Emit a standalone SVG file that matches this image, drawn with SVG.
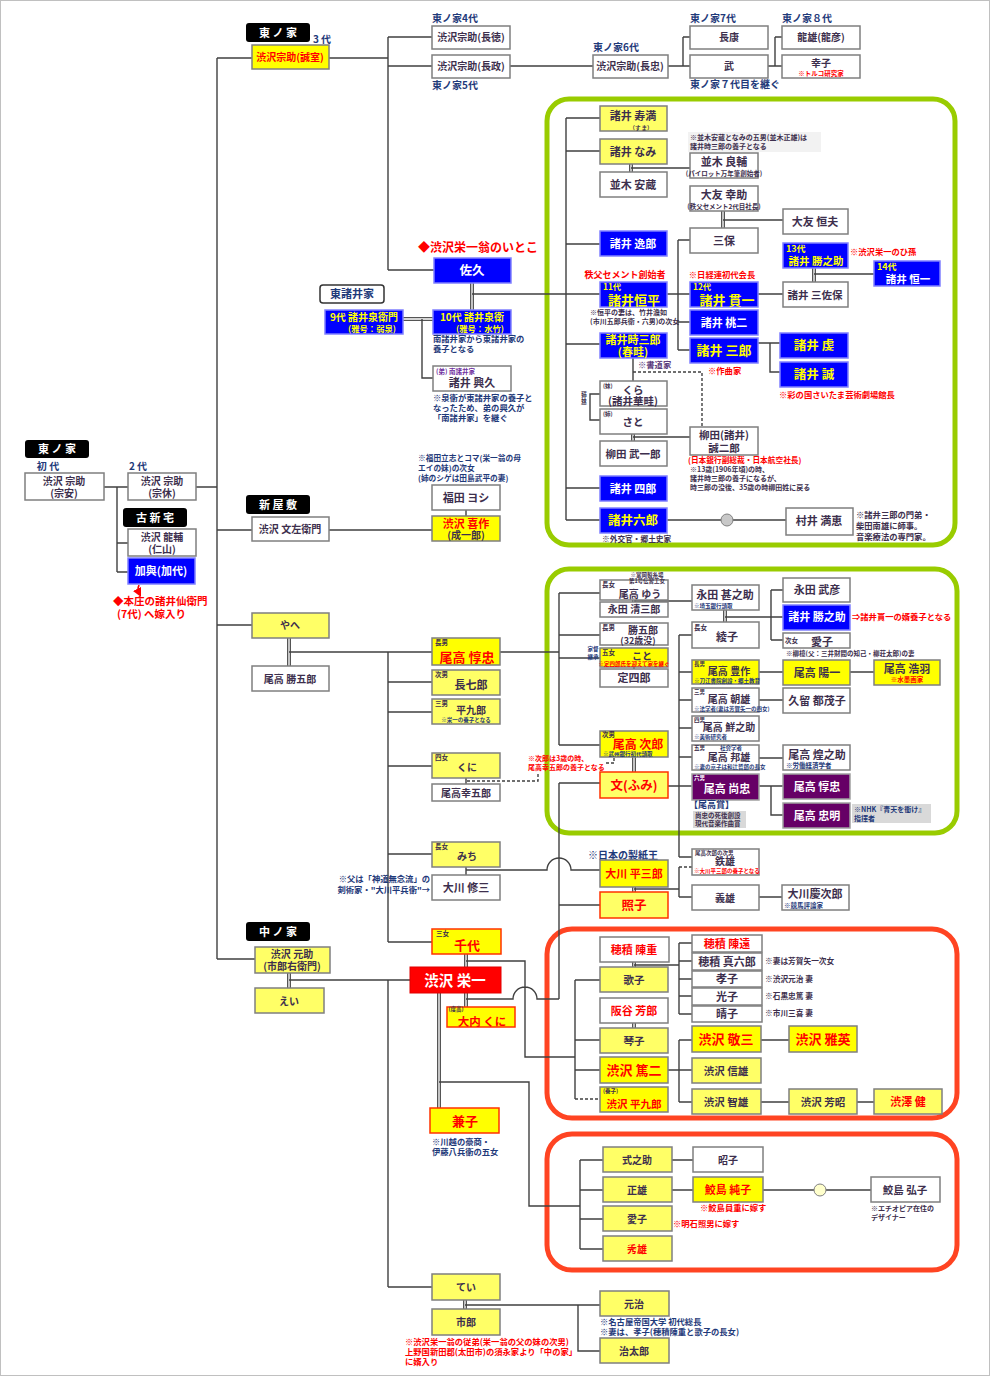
<svg xmlns="http://www.w3.org/2000/svg" xmlns:xlink="http://www.w3.org/1999/xlink" width="990" height="1376" viewBox="0 0 990 1376">
<style>
text{font-family:"Noto Sans CJK JP","Noto Sans CJK SC",sans-serif;font-weight:700;fill:#3d2f4d;text-anchor:middle;font-size:11px}
.s{text-anchor:start}.e{text-anchor:end}
.r{fill:#FF0000}.w{fill:#fff}.yt{fill:#FFFF00}.n{fill:#1F3A7A}.pt{fill:#7030A0}.pp{fill:#5b3b7b}
.f5{font-size:5.5px}.f6{font-size:6.5px}.f7{font-size:7px}.f75{font-size:7.7px}.f8{font-size:8.3px}.f9{font-size:9px}.f10{font-size:10px}.f12{font-size:12.5px}.f13{font-size:13px}.f14{font-size:14.5px}
.b{fill:#fff;stroke:#7f7f7f;stroke-width:1.5}
.y{fill:#FFFF66;stroke:#7f7f7f;stroke-width:1.5}
.Y{fill:#FFFF00;stroke:#7f7f7f;stroke-width:1.5}
.bl{fill:#0000FF;stroke:#8080ff;stroke-width:1.5}
.pu{fill:#660066;stroke:#a0a0a0;stroke-width:1.5}
.rb{stroke:#FF3300}
.lab{fill:#000}
.ln{fill:none;stroke:#404040;stroke-width:1.4}
.da{stroke-dasharray:3 2}
.dbl{fill:none;stroke:#555;stroke-width:4}
.dbli{fill:none;stroke:#fff;stroke-width:1.3}
.grn{fill:none;stroke:#99CC00;stroke-width:5}
.red{fill:none;stroke:#FF4422;stroke-width:5}
</style>
<defs>
<marker id="ar" markerWidth="6" markerHeight="6" refX="3" refY="3" orient="auto"><path d="M0,0L6,3L0,6z" fill="#FF0000"/></marker>
<path id="dbls" d="M472,283V310 M403,319H433 M631,164V172 M723,211V228 M814,268V282 M633,434V441 M289,638V666 M634,599V603 M725,610V622 M634,757V772 M634,887V892 M289,973V988 M466,954V967 M466,993V1007 M439,993V1108 M634,962V967 M634,1023V1028 M465,1300V1309"/>
</defs>
<rect x="0.5" y="0.5" width="989" height="1375" fill="#fff" stroke="#C0C0C0"/>

<g id="frames">
<rect class="grn" x="547" y="99" width="408" height="446" rx="22"/>
<rect class="grn" x="547" y="569" width="410" height="264" rx="22"/>
<rect class="red" x="547" y="929" width="410" height="189" rx="25"/>
<rect class="red" x="547" y="1134" width="410" height="136" rx="25"/>
</g>

<g id="connectors">
<use xlink:href="#dbls" class="dbl"/>
<use xlink:href="#dbls" class="dbli"/>
<path class="ln" d="M217,58V959 M217,58H252 M196,487H217 M217,530H252 M217,625H252 M217,959H255"/>
<path class="ln" d="M104,487H128 M117,487V572 M117,543H128 M117,572H128"/>
<path fill="none" stroke="#FF0000" stroke-width="1.5" d="M139,585q-2,4,0,8" marker-end="url(#ar)"/>
<path class="ln" d="M329,58H388 M388,37V270 M388,37H432 M388,66H432 M388,270H434 M510,66H593 M668,66H690 M683,37V66 M683,37H690 M768,66H782 M775,37V66 M775,37H782"/>
<path class="ln" d="M472,294H600 M422,319V378H433"/>
<path class="ln" d="M566,118V520 M566,118H600 M566,151H600 M566,244H600 M566,344H600 M566,488H600 M566,520H600"/>
<path class="ln" d="M631,168H690 M723,220H783 M667,294H690 M758,294H783 M678,240V350 M678,240H690 M678,322H690 M678,350H690 M814,274H874 M758,343H780 M770,343V372H780"/>
<path class="ln" d="M633,358V381 M600,394H590V420H600 M633,437H690"/>
<path class="ln da" d="M633,372H702V427"/>
<path class="ln" d="M667,520H786"/>
<circle cx="727" cy="520" r="6" fill="#C8C8C8" stroke="#808080"/>
<path class="ln" d="M329,530H432 M466,510V516"/>
<path class="ln" d="M289,652H432 M500,652H559 M388,652V942 M388,682H432 M388,712H432 M388,766H432 M388,854H432 M388,942H432"/>
<path class="ln" d="M466,778V784 M466,867V875 M466,870H547A12,12 0 0 1 571,870H600"/>
<path class="ln da" d="M467,781H538V772 M606,763H614V757"/>
<path class="ln" d="M559,593V745 M559,593H600 M559,635H600 M559,658H600 M559,745H600"/>
<path class="ln" d="M634,601H692 M725,617H783 M771,590V640 M771,590H783 M771,640H783"/>
<path class="ln" d="M634,667V669"/>
<path class="ln" d="M679,635V857 M679,635H692 M679,672H692 M679,700H692 M679,728H692 M679,757H692 M668,786H692 M679,857H692"/>
<path class="ln" d="M759,672H783 M850,672H874 M759,700H783 M759,758H783 M759,786H783 M771,786V815H783"/>
<path class="ln" d="M559,783H600 M559,783V999 M559,905H600"/>
<path class="ln" d="M634,889H679 M679,867V897 M679,897H692 M759,897H782"/>
<path class="ln da" d="M679,867H692"/>
<path class="ln" d="M289,980H410 M388,980V1287 M388,1287H432"/>
<path class="ln" d="M466,961H525V1057H575 M466,999H513A12,12 0 0 1 537,999H559 M439,1082H529V1206H580"/>
<path class="ln" d="M575,980V1099 M575,980H600 M575,1040H600 M575,1070H600"/>
<path class="ln da" d="M575,1099H600"/>
<path class="ln" d="M634,965H679 M679,943V1014 M679,943H692 M679,961H692 M679,979H692 M679,996H692 M679,1014H692"/>
<path class="ln" d="M668,1070H692 M679,1040V1102 M679,1040H692 M679,1102H692 M761,1040H789 M761,1102H789 M857,1102H874"/>
<path class="ln" d="M580,1160V1249 M580,1160H603 M580,1190H603 M580,1219H603 M580,1249H603 M672,1160H693 M672,1190H693 M763,1190H871"/>
<circle cx="820" cy="1190" r="6" fill="#FFFFCC" stroke="#808080"/>
<path class="ln" d="M465,1305H600 M578,1305V1351H600"/>
</g>

<g id="labels">
<rect class="lab" x="246" y="23" width="64" height="19" rx="3"/><text class="w" x="278" y="37">東 ノ 家</text>
<text class="n f10" x="322" y="43">3 代</text>
<rect class="lab" x="25" y="440" width="64" height="18" rx="3"/><text class="w" x="57" y="453">東 ノ 家</text>
<text class="n f10" x="48" y="470">初 代</text>
<text class="n f10" x="138" y="470">2 代</text>
<rect class="lab" x="123" y="508" width="64" height="19" rx="3"/><text class="w" x="155" y="522">古 新 宅</text>
<rect class="lab" x="246" y="495" width="64" height="19" rx="3"/><text class="w" x="278" y="509">新 屋 敷</text>
<rect class="lab" x="246" y="922" width="64" height="19" rx="3"/><text class="w" x="278" y="936">中 ノ 家</text>
<rect x="320" y="285" width="64" height="18" rx="3" fill="#fff" stroke="#333" stroke-width="1.5"/><text class="n" x="352" y="298">東諸井家</text>
</g>

<g id="n-top">
<text class="n f10 s" x="432" y="22">東ノ家4代</text>
<g id="n-chotoku"><rect class="b" x="432" y="26" width="78" height="23"/><text class="f10" x="471" y="41">渋沢宗助(長徳)</text></g>
<g id="n-chosei"><rect class="b" x="432" y="55" width="78" height="23"/><text class="f10" x="471" y="70">渋沢宗助(長政)</text></g>
<text class="n f10 s" x="432" y="89">東ノ家5代</text>
<text class="n f10 s" x="593" y="51">東ノ家6代</text>
<g id="n-chochu"><rect class="b" x="593" y="55" width="75" height="23"/><text class="f10" x="630" y="70">渋沢宗助(長忠)</text></g>
<text class="n f10 s" x="690" y="22">東ノ家7代</text>
<g id="n-choko"><rect class="b" x="690" y="26" width="78" height="23"/><text class="f10" x="729" y="41">長康</text></g>
<g id="n-take"><rect class="b" x="690" y="55" width="78" height="23"/><text class="f10" x="729" y="70">武</text></g>
<text class="n f10 s" x="690" y="88">東ノ家７代目を継ぐ</text>
<text class="n f10 s" x="782" y="22">東ノ家８代</text>
<g id="n-tatsuo"><rect class="b" x="782" y="26" width="78" height="23"/><text class="f10" x="821" y="41">龍雄(龍彦)</text></g>
<g id="n-sachiko"><rect class="b" x="782" y="55" width="78" height="23"/><text class="f10" x="821" y="67">幸子</text><text class="r f6" x="821" y="75.5">※トルコ研究家</text></g>
<g id="n-seishitsu"><rect class="Y" x="252" y="45" width="77" height="24"/><text class="r f10" x="290" y="61">渋沢宗助(誠室)</text></g>
</g>

<g id="n-left">
<g id="n-soan"><rect class="b" x="25" y="473" width="79" height="27"/><text class="f10" x="64" y="485">渋沢 宗助</text><text class="f10" x="64" y="497">(宗安)</text></g>
<g id="n-sokyu"><rect class="b" x="128" y="473" width="68" height="27"/><text class="f10" x="162" y="485">渋沢 宗助</text><text class="f10" x="162" y="497">(宗休)</text></g>
<g id="n-ryusuke"><rect class="b" x="128" y="529" width="68" height="27"/><text class="f10" x="162" y="541">渋沢 龍輔</text><text class="f10" x="162" y="553">(仁山)</text></g>
<g id="n-kayo"><rect class="bl" x="128" y="558" width="67" height="26"/><text class="w" x="161" y="575">加與(加代)</text></g>
<text class="r s" x="113" y="605" style="font-size:10.5px">◆本庄の諸井仙衛門</text>
<text class="r s" x="117" y="618" style="font-size:10.5px">(7代) へ嫁入り</text>
<g id="n-bunzaemon"><rect class="b" x="252" y="517" width="77" height="24"/><text class="f10" x="290" y="533">渋沢 文左衛門</text></g>
<text class="n f75 s" x="418" y="461">※福田立志とコマ(栄一翁の母</text>
<text class="n f75 s" x="418" y="471">エイの妹)の次女</text>
<text class="n f75 s" x="418" y="481">(姉のシゲは田島武平の妻)</text>
<g id="n-yoshi"><rect class="b" x="432" y="485" width="68" height="25"/><text x="466" y="502">福田 ヨシ</text></g>
<g id="n-kisaku"><rect class="Y" x="432" y="516" width="68" height="25"/><text class="r" x="466" y="528">渋沢 喜作</text><text class="f10" x="466" y="539">(成一郎)</text></g>
</g>

<g id="n-moroi">
<text class="r s" x="418" y="252" style="font-size:12px">◆渋沢栄一翁のいとこ</text>
<g id="n-saku"><rect class="bl" x="434" y="258" width="77" height="25"/><text class="w f12" x="472" y="275">佐久</text></g>
<g id="n-sen9"><rect class="bl" x="325" y="310" width="78" height="24"/><text class="yt f10" x="364" y="321">9代 諸井泉衛門</text><text class="yt f8" x="372" y="331.5">(雅号：弱泉)</text></g>
<g id="n-sen10"><rect class="bl" x="433" y="310" width="78" height="24"/><text class="yt f10" x="472" y="321">10代 諸井泉衛</text><text class="yt f8" x="480" y="331.5">(雅号：水竹)</text></g>
<text class="n f8 s" x="433" y="342">南諸井家から東諸井家の</text>
<text class="n f8 s" x="433" y="352">養子となる</text>
<g id="n-okihisa"><rect class="b" x="433" y="366" width="78" height="25"/><text class="pt f6 s" x="436" y="374">(弟) 南諸井家</text><text x="472" y="387">諸井 興久</text></g>
<text class="n f8 s" x="433" y="401">※泉衛が東諸井家の養子と</text>
<text class="n f8 s" x="433" y="411">なったため、弟の興久が</text>
<text class="n f8 s" x="433" y="421">「南諸井家」を継ぐ</text>
</g>

<g id="n-green1">
<g id="n-suma"><rect class="y" x="600" y="106" width="67" height="25"/><text x="633" y="120">諸井 寿満</text><text class="f5" x="641" y="129.5">（す ま）</text></g>
<g id="n-nami"><rect class="y" x="600" y="139" width="67" height="25"/><text x="633" y="156">諸井 なみ</text></g>
<g id="n-yasuzo"><rect class="b" x="600" y="172" width="67" height="25"/><text x="633" y="189">並木 安蔵</text></g>
<rect x="688" y="132" width="133" height="20" fill="#F2F2F2"/>
<text class="f7 s" x="690" y="140">※並木安蔵となみの五男(並木正雄)は</text>
<text class="f7 s" x="690" y="149">諸井時三郎の養子となる</text>
<g id="n-ryosuke"><rect class="b" x="690" y="153" width="68" height="25"/><text x="724" y="166">並木 良輔</text><text class="f6" x="724" y="176">(パイロット万年筆創始者)</text></g>
<g id="n-kosuke"><rect class="b" x="690" y="186" width="68" height="25"/><text x="724" y="199">大友 幸助</text><text class="f6" x="724" y="209">(秩父セメント2代目社長)</text></g>
<g id="n-tsuneo"><rect class="b" x="783" y="209" width="65" height="25"/><text x="815" y="226">大友 恒夫</text></g>
<g id="n-miho"><rect class="b" x="690" y="228" width="68" height="25"/><text x="724" y="245">三保</text></g>
<g id="n-itsuro"><rect class="bl" x="600" y="231" width="67" height="25"/><text class="w" x="633" y="248">諸井 逸郎</text></g>
<g id="n-katsu13"><rect class="bl" x="783" y="243" width="65" height="25"/><text class="yt f9 s" x="786" y="252">13代</text><text class="yt" x="816" y="265" style="font-size:10.5px">諸井 勝之助</text></g>
<text class="r f8 s" x="850" y="255">※渋沢栄一のひ孫</text>
<g id="n-koichi"><rect class="bl" x="874" y="261" width="66" height="25"/><text class="yt f9 s" x="877" y="270">14代</text><text class="w" x="908" y="283" style="font-size:10.5px">諸井 恒一</text></g>
<text class="r f9" x="625" y="278">秩父セメント創始者</text>
<g id="n-kohei"><rect class="bl" x="600" y="282" width="67" height="25"/><text class="yt f8 s" x="603" y="289.5">11代</text><text class="yt f13" x="634" y="305">諸井恒平</text></g>
<text class="r f8" x="722" y="278">※日経連初代会長</text>
<g id="n-kanichi"><rect class="bl" x="690" y="282" width="68" height="25"/><text class="yt f8 s" x="693" y="289.5">12代</text><text class="yt f13" x="727" y="305">諸井 貫一</text></g>
<g id="n-misaho"><rect class="b" x="783" y="282" width="65" height="25"/><text x="815" y="299" style="font-size:10.5px">諸井 三佐保</text></g>
<text class="f7 s" x="590" y="315">※恒平の妻は、竹井澹如</text>
<text class="f7 s" x="590" y="324">(市川五郎兵衛・六男)の次女</text>
<g id="n-momoji"><rect class="bl" x="690" y="310" width="68" height="25"/><text class="w" x="724" y="327">諸井 桃二</text></g>
<g id="n-tokisaburo"><rect class="bl" x="600" y="333" width="67" height="25"/><text class="yt" x="633" y="344">諸井時三郎</text><text class="yt" x="633" y="355.5">(春畦)</text></g>
<g id="n-saburo"><rect class="bl" x="690" y="338" width="68" height="25"/><text class="yt f13" x="724" y="355">諸井 三郎</text></g>
<text class="pp f8 s" x="638" y="368">※書道家</text>
<text class="r f8 s" x="708" y="374">※作曲家</text>
<g id="n-ken"><rect class="bl" x="780" y="333" width="68" height="25"/><text class="yt f12" x="814" y="350">諸井 虔</text></g>
<g id="n-makoto"><rect class="bl" x="780" y="362" width="68" height="25"/><text class="yt f12" x="814" y="379">諸井 誠</text></g>
<text class="r f8 s" x="779" y="398">※彩の国さいたま芸術劇場館長</text>
<g id="n-kura"><rect class="b" x="600" y="381" width="67" height="25"/><text class="f5 s" x="603" y="388">(妹)</text><text x="633" y="393.5" style="font-size:10.5px">くら</text><text x="633" y="404.5" style="font-size:10.5px">(諸井華畦)</text></g>
<g id="n-sato"><rect class="b" x="600" y="409" width="67" height="25"/><text class="f5 s" x="603" y="416">(姉)</text><text x="633" y="426" style="font-size:10.5px">さと</text></g>
<text class="f5" x="584" y="398" style="writing-mode:vertical-rl">(姉妹)</text>
<g id="n-takeichiro"><rect class="b" x="600" y="441" width="67" height="25"/><text x="633" y="458" style="font-size:10.5px">柳田 武一郎</text></g>
<g id="n-seijiro"><rect class="b" x="690" y="427" width="68" height="28"/><text x="724" y="439" style="font-size:10.5px">柳田(諸井)</text><text x="724" y="451.5" style="font-size:10.5px">誠二郎</text></g>
<text class="r f75 s" x="688" y="462.5">(日本銀行副総裁・日本航空社長)</text>
<text class="f7 s" x="690" y="471.5">※13歳(1906年頃)の時、</text>
<text class="f7 s" x="690" y="480.5">諸井時三郎の養子になるが、</text>
<text class="f7 s" x="690" y="489.5">時三郎の没後、35歳の時柳田姓に戻る</text>
<g id="n-shiro"><rect class="bl" x="600" y="476" width="67" height="25"/><text class="w" x="633" y="493">諸井 四郎</text></g>
<g id="n-rokuro"><rect class="bl" x="600" y="508" width="67" height="25"/><text class="yt f12" x="633" y="525">諸井六郎</text></g>
<text class="f75 s" x="602" y="542">※外交官・郷土史家</text>
<g id="n-mie"><rect class="b" x="786" y="508" width="67" height="27"/><text x="819" y="525">村井 満恵</text></g>
<text class="f8 s" x="856" y="518">※諸井三郎の門弟・</text>
<text class="f8 s" x="856" y="529">柴田南雄に師事。</text>
<text class="f8 s" x="856" y="540">音楽療法の専門家。</text>
</g>

<g id="n-odaka">
<g id="n-yahe"><rect class="y" x="252" y="613" width="77" height="25"/><text class="f10" x="290" y="629">やへ</text></g>
<g id="n-katsugoro"><rect class="b" x="252" y="666" width="77" height="25"/><text class="f10" x="290" y="683">尾高 勝五郎</text></g>
<g id="n-junchu"><rect class="Y" x="432" y="638" width="68" height="27"/><text class="f6 s" x="435" y="645">長男</text><text class="r f13" x="467" y="661.5">尾高 惇忠</text></g>
<g id="n-choshichiro"><rect class="y" x="432" y="670" width="68" height="25"/><text class="f6 s" x="435" y="677">次男</text><text x="471" y="689">長七郎</text></g>
<g id="n-heikuro"><rect class="y" x="432" y="699" width="68" height="25"/><text class="f6 s" x="435" y="706">三男</text><text class="f10" x="471" y="714">平九郎</text><text class="n f5" x="466" y="722">※栄一の養子となる</text></g>
<g id="n-kuni"><rect class="y" x="432" y="753" width="68" height="25"/><text class="f6 s" x="435" y="760">四女</text><text class="f10" x="467" y="771">くに</text></g>
<g id="n-kogoro"><rect class="b" x="432" y="784" width="68" height="17"/><text class="f10" x="466" y="797">尾高幸五郎</text></g>
<g id="n-michi"><rect class="y" x="432" y="842" width="68" height="25"/><text class="f6 s" x="435" y="849">長女</text><text class="f10" x="467" y="860">みち</text></g>
<g id="n-shuzo"><rect class="b" x="432" y="875" width="68" height="25"/><text x="466" y="892">大川 修三</text></g>
<text class="n f8 e" x="430" y="882">※父は「神道無念流」の</text>
<text class="n f8 e" x="430" y="893">剣術家・&quot;大川平兵衛&quot;→</text>
</g>

<g id="n-green2">
<g id="n-yu"><rect class="b" x="600" y="580" width="68" height="20"/><text class="f6 s" x="602" y="587">長女</text><text class="f10" x="640" y="598">尾高 ゆう</text></g>
<text class="f5" x="647" y="577">※富岡製糸場</text>
<text class="f5" x="647" y="583">第1号伝習工女</text>
<g id="n-seizaburo"><rect class="b" x="600" y="602" width="68" height="15"/><text class="f10" x="634" y="613">永田 清三郎</text></g>
<g id="n-jinnosuke"><rect class="b" x="692" y="585" width="67" height="25"/><text x="725" y="599">永田 甚之助</text><text class="n f5 s" x="694" y="607.5">※埼玉銀行頭取</text></g>
<g id="n-takehiko"><rect class="b" x="783" y="578" width="67" height="24"/><text x="817" y="594">永田 武彦</text></g>
<g id="n-katsu2"><rect class="bl" x="783" y="605" width="67" height="25"/><text class="w" x="817" y="621">諸井 勝之助</text></g>
<text class="r f8 s" x="852" y="620">⇒諸井貫一の婿養子となる</text>
<g id="n-aiko"><rect class="b" x="783" y="633" width="67" height="15"/><text class="f6 s" x="785" y="643">次女</text><text x="822" y="646">愛子</text></g>
<text class="f6 s" x="786" y="656">※柳檍(父：三井財閥の知己・柳荘太郎)の妻</text>
<g id="n-ayako"><rect class="b" x="692" y="622" width="67" height="26"/><text class="f6 s" x="694" y="630">長女</text><text x="727" y="641">綾子</text></g>
<g id="n-katsugoro2"><rect class="b" x="600" y="623" width="68" height="22"/><text class="f6 s" x="602" y="630">長男</text><text class="f10" x="643" y="634">勝五郎</text><text class="f9" x="638" y="644">(32歳没)</text></g>
<text class="n f5" x="593" y="650.5">家督</text>
<text class="n f5" x="593" y="659">継承</text>
<g id="n-koto"><rect class="Y" x="600" y="648" width="68" height="19"/><text class="f6 s" x="602" y="655">五女</text><text class="f10" x="642" y="659.5">こと</text><text class="r f5" x="634" y="666">※定四郎氏を迎えて家を継ぐ</text></g>
<g id="n-sadashiro"><rect class="b" x="600" y="669" width="68" height="18"/><text x="634" y="682">定四郎</text></g>
<g id="n-hosaku"><rect class="Y" x="692" y="660" width="67" height="24"/><text class="f5 s" x="694" y="665.5">長男</text><text class="f10" x="729" y="675">尾高 豊作</text><text class="n f5 s" x="694" y="682.5">※刀江書院創設・郷土教育</text></g>
<g id="n-yoichi"><rect class="Y" x="783" y="660" width="67" height="25"/><text x="817" y="677">尾高 陽一</text></g>
<g id="n-koha"><rect class="Y" x="874" y="660" width="66" height="25"/><text x="907" y="673">尾高 浩羽</text><text class="r f6" x="907" y="682">※水墨画家</text></g>
<g id="n-tomoo"><rect class="b" x="692" y="688" width="67" height="24"/><text class="f5 s" x="694" y="693.5">三男</text><text class="f10" x="729" y="703">尾高 朝雄</text><text class="n f5 s" x="694" y="710.5">※法学者(妻は芳賀矢一の四女)</text></g>
<g id="n-kuru"><rect class="b" x="783" y="688" width="67" height="25"/><text x="817" y="705">久留 都茂子</text></g>
<g id="n-sennosuke"><rect class="b" x="692" y="716" width="67" height="25"/><text class="f5 s" x="694" y="721.5">四男</text><text class="f10" x="729" y="731">尾高 鮮之助</text><text class="n f5 s" x="694" y="739">※美術研究者</text></g>
<g id="n-kunio"><rect class="b" x="692" y="745" width="67" height="25"/><text class="f5 s" x="694" y="749.5">五男</text><text class="n f5" x="731" y="749.5">社会学者</text><text class="f10" x="729" y="761">尾高 邦雄</text><text class="n f5 s" x="694" y="768.5">※妻の京子は和辻哲郎の長女</text></g>
<g id="n-konosuke"><rect class="b" x="783" y="745" width="67" height="25"/><text x="817" y="759">尾高 煌之助</text><text class="n f6 s" x="786" y="768">※労働経済学者</text></g>
<g id="n-hisatada"><rect class="pu" x="692" y="774" width="67" height="26"/><text class="w f5 s" x="694" y="780">六男</text><text class="w" x="727" y="793">尾高 尚忠</text></g>
<g id="n-atsutada2"><rect class="pu" x="783" y="774" width="67" height="25"/><text class="w" x="817" y="791">尾高 惇忠</text></g>
<g id="n-tadaaki"><rect class="pu" x="783" y="803" width="67" height="25"/><text class="w" x="817" y="820">尾高 忠明</text></g>
<rect x="852" y="804" width="79" height="19" fill="#D9D9D9"/>
<text class="n f7 s" x="854" y="812">※NHK『青天を衝け』</text>
<text class="n f7 s" x="854" y="821">指揮者</text>
<text class="n f9 s" x="689" y="808">【尾高賞】</text>
<rect x="693" y="811" width="53" height="17" fill="#D9D9D9"/>
<text class="f6 s" x="695" y="818">尚忠の死後創設</text>
<text class="f6 s" x="695" y="826">現代音楽作曲賞</text>
<g id="n-jiro"><rect class="Y" x="600" y="731" width="68" height="26"/><text class="f6 s" x="602" y="737">次男</text><text class="r" x="638" y="749" style="font-size:12px">尾高 次郎</text><text class="n f5 s" x="603" y="756">※武州銀行初代頭取</text></g>
<g id="n-fumi"><rect class="y rb" x="600" y="772" width="68" height="26"/><text class="r f12" x="634" y="790">文(ふみ)</text></g>
<text class="r f7 s" x="528" y="761">※次郎は3歳の時、</text>
<text class="r f7 s" x="528" y="770">尾高幸五郎の養子となる</text>
</g>

<g id="n-okawa">
<text class="n f10 s" x="588" y="859">※日本の製紙王</text>
<g id="n-heisaburo"><rect class="Y" x="600" y="860" width="68" height="27" stroke="#555"/><text class="r" x="634" y="878">大川 平三郎</text></g>
<g id="n-teruko"><rect class="y rb" x="600" y="892" width="68" height="26"/><text class="r f12" x="634" y="910">照子</text></g>
<g id="n-tetsuo"><rect class="b" x="692" y="849" width="67" height="26"/><text class="f5 s" x="695" y="855">尾高次郎の次男</text><text class="f10" x="725" y="865">鉄雄</text><text class="r f5 s" x="694" y="873">※大川平三郎の養子となる</text></g>
<g id="n-yoshio"><rect class="b" x="692" y="885" width="67" height="25"/><text class="f10" x="725" y="902">義雄</text></g>
<g id="n-keijiro"><rect class="b" x="782" y="885" width="67" height="25"/><text x="815" y="898">大川慶次郎</text><text class="n f6 s" x="784" y="908">※競馬評論家</text></g>
</g>

<g id="n-naka">
<g id="n-gensuke"><rect class="y" x="255" y="947" width="75" height="26"/><text class="f10" x="292" y="958">渋沢 元助</text><text class="f10" x="292" y="970">(市郎右衛門)</text></g>
<g id="n-ei"><rect class="y" x="255" y="988" width="69" height="25"/><text class="f10" x="289" y="1005">えい</text></g>
<g id="n-chiyo"><rect class="Y rb" x="432" y="929" width="69" height="25"/><text class="f6 s" x="436" y="936">三女</text><text class="r f13" x="467" y="950">千代</text></g>
<g id="n-eiichi"><rect x="410" y="967" width="91" height="26" fill="#FF0000" stroke="#E00000"/><text class="w f14" x="455" y="986">渋沢 栄一</text></g>
<g id="n-okuchi"><rect class="Y rb" x="447" y="1007" width="68" height="20"/><text class="f5" x="456" y="1010.5">(度高)</text><text class="r" x="482" y="1026" style="font-size:11.5px">大内 くに</text></g>
<g id="n-kaneko"><rect class="Y rb" x="430" y="1108" width="69" height="25"/><text class="r f13" x="465" y="1126">兼子</text></g>
<text class="n f8 s" x="432" y="1145">※川越の豪商・</text>
<text class="n f8 s" x="432" y="1155">伊藤八兵衛の五女</text>
<g id="n-tei"><rect class="y" x="432" y="1274" width="68" height="26"/><text class="f10" x="466" y="1291">てい</text></g>
<g id="n-ichiro"><rect class="y" x="432" y="1309" width="68" height="26"/><text class="f10" x="466" y="1326">市郎</text></g>
<text class="r f8 s" x="405" y="1345">※渋沢栄一翁の従弟(栄一翁の父の妹の次男)</text>
<text class="r f8 s" x="405" y="1355">上野国新田郡(太田市)の須永家より「中の家」</text>
<text class="r f8 s" x="405" y="1365">に婿入り</text>
<g id="n-motoharu"><rect class="y" x="600" y="1291" width="69" height="25"/><text class="f10" x="634" y="1308">元治</text></g>
<text class="n f8 s" x="600" y="1325">※名古屋帝国大学 初代総長</text>
<text class="n f8 s" x="600" y="1335">※妻は、孝子(穂積陳重と歌子の長女)</text>
<g id="n-jitaro"><rect class="y" x="600" y="1338" width="69" height="25"/><text class="f10" x="634" y="1355">治太郎</text></g>
</g>

<g id="n-red1">
<g id="n-nobushige"><rect class="b" x="600" y="937" width="69" height="25"/><text class="r" x="634" y="954">穂積 陳重</text></g>
<g id="n-utako"><rect class="y" x="600" y="967" width="68" height="25"/><text x="634" y="984" style="font-size:10.5px">歌子</text></g>
<g id="n-yoshiro"><rect class="b" x="600" y="998" width="68" height="25"/><text class="r" x="634" y="1015">阪谷 芳郎</text></g>
<g id="n-kotoko"><rect class="y" x="600" y="1028" width="68" height="25"/><text x="634" y="1045" style="font-size:10.5px">琴子</text></g>
<g id="n-tokuji"><rect class="Y" x="600" y="1057" width="68" height="26"/><text class="r f13" x="634" y="1075">渋沢 篤二</text></g>
<g id="n-heikuro2"><rect class="Y" x="600" y="1087" width="68" height="25"/><text class="f5 s" x="603" y="1093">(養子)</text><text class="r" x="634" y="1107.5" style="font-size:10.5px">渋沢 平九郎</text></g>
<g id="n-nobuto"><rect class="b" x="692" y="935" width="70" height="17"/><text class="r" x="727" y="948">穂積 陳遠</text></g>
<g id="n-shinrokuro"><rect class="b" x="692" y="953" width="70" height="17"/><text x="727" y="966">穂積 真六郎</text></g>
<g id="n-takako"><rect class="b" x="692" y="971" width="70" height="16"/><text x="727" y="983">孝子</text></g>
<g id="n-mitsuko"><rect class="b" x="692" y="988" width="70" height="17"/><text x="727" y="1001">光子</text></g>
<g id="n-haruko"><rect class="b" x="692" y="1006" width="70" height="16"/><text x="727" y="1018">晴子</text></g>
<text class="f75 s" x="765" y="964">※妻は芳賀矢一次女</text>
<text class="f75 s" x="765" y="982">※渋沢元治 妻</text>
<text class="f75 s" x="765" y="999">※石黒忠篤 妻</text>
<text class="f75 s" x="765" y="1016">※市川三喜 妻</text>
<g id="n-keizo"><rect class="Y" x="692" y="1026" width="69" height="26"/><text class="r f13" x="726" y="1044">渋沢 敬三</text></g>
<g id="n-masahide"><rect class="Y" x="789" y="1026" width="68" height="26"/><text class="r f13" x="823" y="1044">渋沢 雅英</text></g>
<g id="n-nobuo"><rect class="y" x="692" y="1058" width="69" height="25"/><text x="726" y="1075" style="font-size:10.5px">渋沢 信雄</text></g>
<g id="n-tomoo2"><rect class="y" x="692" y="1089" width="69" height="25"/><text x="726" y="1106" style="font-size:10.5px">渋沢 智雄</text></g>
<g id="n-yoshiaki"><rect class="y" x="789" y="1089" width="68" height="25"/><text x="823" y="1106" style="font-size:10.5px">渋沢 芳昭</text></g>
<g id="n-ken2"><rect class="y" x="874" y="1089" width="68" height="25"/><text class="r" x="908" y="1106">渋澤 健</text></g>
</g>

<g id="n-red2">
<g id="n-shikinosuke"><rect class="y" x="603" y="1147" width="69" height="25"/><text class="f10" x="637" y="1164">式之助</text></g>
<g id="n-akiko"><rect class="b" x="693" y="1147" width="70" height="25"/><text class="f10" x="728" y="1164">昭子</text></g>
<g id="n-masao"><rect class="y" x="603" y="1177" width="69" height="25"/><text class="f10" x="637" y="1194">正雄</text></g>
<g id="n-junko"><rect class="Y" x="693" y="1177" width="70" height="25"/><text class="r" x="728" y="1194">鮫島 純子</text></g>
<g id="n-hiroko"><rect class="b" x="871" y="1177" width="69" height="25"/><text x="905" y="1194" style="font-size:10.5px">鮫島 弘子</text></g>
<text class="r f8 s" x="700" y="1211">※鮫島員重に嫁す</text>
<text class="f7 s" x="871" y="1211">※エチオピア在住の</text>
<text class="f7 s" x="871" y="1220">デザイナー</text>
<g id="n-aiko2"><rect class="y" x="603" y="1206" width="69" height="25"/><text class="f10" x="637" y="1223">愛子</text></g>
<text class="r f8 s" x="673" y="1227">※明石照男に嫁す</text>
<g id="n-hideo"><rect class="y" x="603" y="1236" width="69" height="25"/><text class="r f10" x="637" y="1253">秀雄</text></g>
</g>
</svg>
